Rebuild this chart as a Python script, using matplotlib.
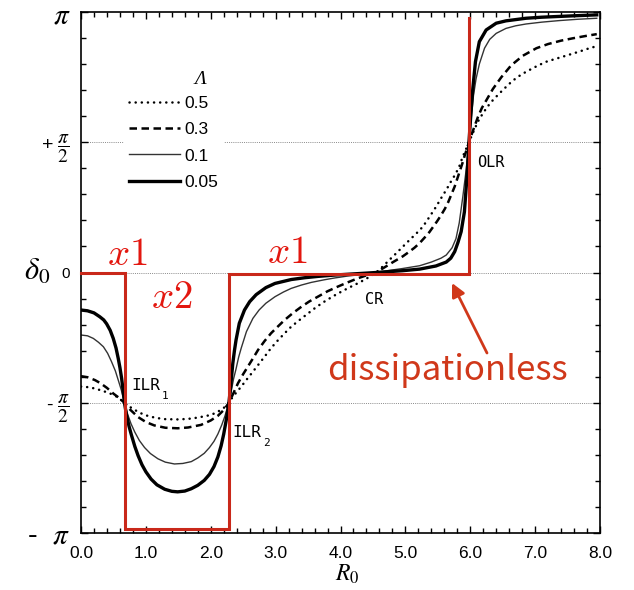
import numpy as np
import matplotlib
matplotlib.use('Agg')
import matplotlib.pyplot as plt

plt.rcParams['font.family'] = ['Liberation Sans', 'DejaVu Sans']

# ---- data: phase delta_0 (in units of pi) versus R_0 -------------------
LAMBDAS = ['0.5', '0.3', '0.1', '0.05']

R_05 = [0.0, 0.1, 0.21, 0.29, 0.415, 0.50, 0.57, 0.63, 0.67, 0.76, 0.88, 0.98, 1.15, 1.30,
        1.49, 1.65, 1.80, 2.00, 2.10, 2.20, 2.28, 2.34, 2.47, 2.55, 2.63, 2.73, 2.83, 2.93,
        3.04, 3.14, 3.24, 3.37, 3.50, 3.62, 3.75, 3.88, 4.01, 4.14, 4.27, 4.37, 4.47, 4.55,
        4.66, 4.76, 4.86, 4.96, 5.065, 5.17, 5.27, 5.37, 5.475, 5.55, 5.63, 5.70, 5.78,
        5.835, 5.885, 5.98, 6.06, 6.12, 6.195, 6.27, 6.35, 6.42, 6.50, 6.60, 6.70, 6.80,
        6.91, 7.04, 7.17, 7.30, 7.42, 7.55, 7.68, 7.80, 7.95]
D_05 = [-0.438, -0.440, -0.445, -0.451, -0.461, -0.470, -0.479, -0.492, -0.5, -0.517,
        -0.535, -0.547, -0.558, -0.563, -0.564, -0.562, -0.557, -0.547, -0.536, -0.52, -0.5,
        -0.477, -0.438, -0.412, -0.387, -0.355, -0.323, -0.29, -0.259, -0.233, -0.208,
        -0.182, -0.157, -0.134, -0.112, -0.092, -0.074, -0.057, -0.041, -0.028, -0.013, 0.0,
        0.025, 0.05, 0.074, 0.099, 0.125, 0.15, 0.176, 0.213, 0.253, 0.285, 0.317, 0.348,
        0.381, 0.41, 0.445, 0.5, 0.547, 0.58, 0.611, 0.638, 0.662, 0.68, 0.70, 0.724, 0.745,
        0.762, 0.777, 0.794, 0.809, 0.819, 0.828, 0.838, 0.848, 0.858, 0.869]

R_03 = [0.0, 0.1, 0.215, 0.30, 0.40, 0.50, 0.58, 0.67, 0.76, 0.88, 1.00, 1.13, 1.30, 1.49,
        1.65, 1.85, 2.00, 2.11, 2.20, 2.28, 2.35, 2.42, 2.50, 2.57, 2.65, 2.73, 2.83, 2.93,
        3.04, 3.14, 3.27, 3.40, 3.52, 3.65, 3.80, 3.96, 4.12, 4.27, 4.40, 4.55, 4.68, 4.81,
        4.96, 5.05, 5.14, 5.22, 5.30, 5.37, 5.43, 5.49, 5.55, 5.61, 5.66, 5.71, 5.76, 5.80,
        5.84, 5.88, 5.91, 5.98, 6.05, 6.12, 6.18, 6.25, 6.35, 6.48, 6.63, 6.81, 7.02, 7.20,
        7.40, 7.58, 7.78, 7.95]
D_03 = [-0.398, -0.402, -0.413, -0.425, -0.443, -0.465, -0.48, -0.5, -0.527, -0.555, -0.574,
        -0.587, -0.596, -0.598, -0.595, -0.585, -0.568, -0.550, -0.528, -0.5, -0.463, -0.425,
        -0.39, -0.362, -0.33, -0.297, -0.263, -0.233, -0.206, -0.182, -0.155, -0.131, -0.111,
        -0.093, -0.072, -0.054, -0.037, -0.022, -0.011, 0.0, 0.020, 0.040, 0.062, 0.078,
        0.095, 0.113, 0.135, 0.155, 0.176, 0.197, 0.22, 0.245, 0.27, 0.30, 0.33, 0.36, 0.39,
        0.42, 0.445, 0.5, 0.55, 0.598, 0.632, 0.662, 0.705, 0.75, 0.795, 0.832, 0.861, 0.877,
        0.890, 0.899, 0.908, 0.915]

R_01 = [0.0, 0.10, 0.19, 0.27, 0.345, 0.41, 0.47, 0.53, 0.574, 0.62, 0.67, 0.72, 0.77, 0.83,
        0.90, 0.98, 1.07, 1.185, 1.30, 1.44, 1.57, 1.70, 1.80, 1.90, 1.98, 2.05, 2.11, 2.17,
        2.22, 2.28, 2.32, 2.35, 2.39, 2.43, 2.47, 2.55, 2.65, 2.745, 2.85, 2.99, 3.12, 3.24,
        3.40, 3.55, 3.75, 3.91, 4.10, 4.27, 4.55, 4.75, 4.95, 5.22, 5.40, 5.55, 5.63, 5.72,
        5.78, 5.83, 5.885, 5.94, 5.98, 6.02, 6.05, 6.09, 6.14, 6.22, 6.30, 6.40, 6.55, 6.70,
        6.86, 7.10, 7.37, 7.65, 7.95]
D_01 = [-0.240, -0.243, -0.253, -0.268, -0.285, -0.31, -0.342, -0.378, -0.413, -0.45, -0.5,
        -0.545, -0.58, -0.613, -0.645, -0.672, -0.695, -0.715, -0.728, -0.735, -0.733,
        -0.726, -0.712, -0.694, -0.672, -0.648, -0.62, -0.585, -0.55, -0.5, -0.45, -0.41,
        -0.37, -0.325, -0.29, -0.227, -0.176, -0.144, -0.118, -0.093, -0.075, -0.061, -0.048,
        -0.038, -0.028, -0.021, -0.014, -0.009, 0.0, 0.008, 0.015, 0.026, 0.04, 0.055, 0.067,
        0.095, 0.13, 0.19, 0.29, 0.40, 0.5, 0.605, 0.68, 0.744, 0.80, 0.861, 0.895, 0.918,
        0.937, 0.947, 0.954, 0.961, 0.967, 0.972, 0.976]

R_005 = [0.0, 0.1, 0.2, 0.29, 0.35, 0.395, 0.45, 0.497, 0.54, 0.574, 0.60, 0.626, 0.65, 0.67,
         0.70, 0.74, 0.775, 0.83, 0.88, 0.94, 1.00, 1.08, 1.17, 1.29, 1.40, 1.49, 1.60, 1.70,
         1.80, 1.90, 1.98, 2.05, 2.11, 2.16, 2.20, 2.24, 2.28, 2.31, 2.34, 2.365, 2.39, 2.44,
         2.52, 2.60, 2.70, 2.85, 2.99, 3.24, 3.45, 3.65, 3.90, 4.16, 4.55, 4.96, 5.22, 5.47,
         5.63, 5.70, 5.76, 5.81, 5.86, 5.91, 5.95, 5.98, 6.01, 6.04, 6.08, 6.14, 6.245, 6.40,
         6.55, 6.86, 7.10, 7.37, 7.65, 7.95]
D_005 = [-0.144, -0.147, -0.155, -0.170, -0.182, -0.197, -0.222, -0.253, -0.29, -0.33,
         -0.365, -0.406, -0.455, -0.5, -0.545, -0.59, -0.622, -0.668, -0.703, -0.738, -0.765,
         -0.793, -0.815, -0.832, -0.840, -0.842, -0.839, -0.830, -0.817, -0.798, -0.775,
         -0.745, -0.708, -0.665, -0.62, -0.565, -0.5, -0.43, -0.349, -0.30, -0.259, -0.195,
         -0.144, -0.112, -0.085, -0.058, -0.042, -0.027, -0.020, -0.015, -0.010, -0.006, 0.0,
         0.007, 0.013, 0.025, 0.04, 0.055, 0.08, 0.115, 0.157, 0.233, 0.37, 0.5, 0.61, 0.707,
         0.809, 0.886, 0.931, 0.957, 0.966, 0.976, 0.980, 0.983, 0.986, 0.989]

XTICKS = [0, 1, 2, 3, 4, 5, 6, 7, 8]
XTICK_LABELS = ['0.0', '1.0', '2.0', '3.0', '4.0', '5.0', '6.0', '7.0', '8.0']
YTICKS_PI = [-1.0, -0.5, 0.0, 0.5, 1.0]
YTICK_LABELS = [r'-  $\pi$', r'- $\dfrac{\pi}{2}$', '0', r'+ $\dfrac{\pi}{2}$', r'$\pi$']

# red overlay path (R_0, delta/pi)
RED_PATH_X = [0.0, 0.677, 0.677, 2.285, 2.285, 5.98, 5.98]
RED_PATH_Y = [0.0, 0.0, -0.986, -0.986, -0.006, -0.006, 0.977]

# ---- figure -------------------------------------------------------------
W, H = 634, 590
fig = plt.figure(figsize=(W / 100, H / 100), dpi=100)


def P(x, y):
    return (x / W, 1 - y / H)


ax = fig.add_axes([81 / W, 1 - 533 / H, (600 - 81) / W, (533 - 12) / H])
ax.set_xlim(0, 8)
ax.set_ylim(-np.pi, np.pi)

for y in (-0.5, 0.0, 0.5):
    ax.axhline(y * np.pi, color='#8a8a8a', lw=0.7, ls=(0, (1, 1.2)), zorder=0.5)

pi = np.pi
l1, = ax.plot(R_05, np.array(D_05) * pi, color='black', lw=1.8,
              ls=(0, (0.05, 2.4)), dash_capstyle='round', solid_capstyle='round')
l2, = ax.plot(R_03, np.array(D_03) * pi, color='black', lw=1.8, ls=(0, (3.0, 1.8)))
l3, = ax.plot(R_01, np.array(D_01) * pi, color='#333333', lw=1.0,
              solid_joinstyle='round')
l4, = ax.plot(R_005, np.array(D_005) * pi, color='black', lw=2.4,
              solid_joinstyle='round')

# axes styling
for s in ax.spines.values():
    s.set_linewidth(1.2)
ax.set_xticks(XTICKS)
ax.set_xticklabels(XTICK_LABELS)
ax.set_xticks(np.arange(0, 8.01, 0.2), minor=True)
ax.set_yticks(np.array(YTICKS_PI) * pi)
ax.set_yticklabels(YTICK_LABELS)
ax.set_yticks(np.arange(-10, 11) * pi / 10, minor=True)
ax.tick_params(which='both', direction='in', top=True, right=True, width=1.0)
ax.tick_params(which='major', length=5)
ax.tick_params(which='minor', length=3.5)
ax.tick_params(axis='x', pad=9, labelsize=12.5)
ax.tick_params(axis='y', pad=8)
for lbl, fs in zip(ax.get_yticklabels(), [21, 14, 11, 14, 21]):
    lbl.set_fontsize(fs)
    lbl.set_math_fontfamily('stix')
ymaj = ax.yaxis.get_major_ticks()
ymaj[0].set_pad(7.5)
ymaj[4].set_pad(7.5)

# axis titles
fig.text(*P(37, 272), r'$\delta_0$', fontsize=22, math_fontfamily='stix',
         ha='center', va='center')
fig.text(*P(347, 574), r'$R_0$', fontsize=17, math_fontfamily='stix',
         ha='center', va='center')

# legend
leg = ax.legend([l1, l2, l3, l4], LAMBDAS, loc='upper left',
                bbox_to_anchor=P(124, 91), bbox_transform=fig.transFigure,
                frameon=True, fancybox=False, framealpha=1, facecolor='white',
                edgecolor='none', fontsize=12.5, handlelength=2.9, handletextpad=0.3,
                labelspacing=0.63, borderpad=0.3, borderaxespad=0)
fig.text(*P(200, 80), 'Λ', fontsize=14, fontstyle='italic',
         family='Liberation Serif', ha='center', va='center')

# resonance labels
mono = 'DejaVu Sans Mono'
fig.text(*P(131, 390), 'ILR', family=mono, fontsize=11.5, va='baseline')
fig.text(*P(162, 399), '1', family=mono, fontsize=8, va='baseline')
fig.text(*P(232, 437), 'ILR', family=mono, fontsize=11.5, va='baseline')
fig.text(*P(263, 446), '2', family=mono, fontsize=8, va='baseline')
fig.text(*P(365, 304), 'CR', family=mono, fontsize=11, va='baseline')
fig.text(*P(477, 167), 'OLR', family=mono, fontsize=11, va='baseline')

# red overlay
red_line = '#c9281a'
ax.plot(RED_PATH_X, np.array(RED_PATH_Y) * pi, color=red_line, lw=2.2,
        solid_joinstyle='miter', clip_on=False, zorder=4)

red_txt = '#e3170f'
fig.text(*P(107, 265), r'$x1$', fontsize=28, math_fontfamily='cm', color=red_txt,
         va='baseline')
fig.text(*P(151, 308), r'$x2$', fontsize=28, math_fontfamily='cm', color=red_txt,
         va='baseline')
fig.text(*P(267, 263), r'$x1$', fontsize=28, math_fontfamily='cm', color=red_txt,
         va='baseline')

dis_col = '#d0381a'
fig.text(*P(447, 380), 'dissipationless', fontsize=25, color=dis_col,
         family='Noto Sans CJK JP', ha='center', va='baseline')
ax.annotate('', xy=P(452, 283), xycoords='figure fraction',
            xytext=P(487, 353), textcoords='figure fraction',
            arrowprops=dict(arrowstyle='-|>', color=dis_col, lw=2.0,
                            mutation_scale=20, shrinkA=0, shrinkB=0))

fig.savefig('out.png', dpi=100)
